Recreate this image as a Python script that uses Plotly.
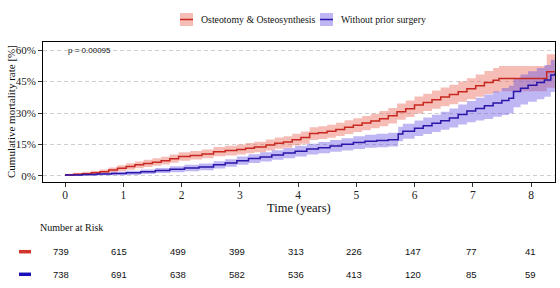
import plotly.graph_objects as go

# ---------------- data ----------------
group_names = ["Osteotomy & Osteosynthesis", "Without prior surgery"]

red_t = [0, 0.15, 0.3, 0.45, 0.6, 0.75, 0.9, 1.05, 1.2, 1.35, 1.5, 1.65, 1.8, 1.95,
         2.15, 2.35, 2.55, 2.75, 2.95, 3.1, 3.25, 3.45, 3.6, 3.75, 3.9, 4.05, 4.2,
         4.35, 4.5, 4.65, 4.8, 4.95, 5.1, 5.25, 5.4, 5.55, 5.7, 5.85, 6.0, 6.15, 6.3,
         6.45, 6.6, 6.75, 6.9, 7.05, 7.2, 7.35, 7.45, 8.27, 8.41]
red_est = [0.5, 0.8, 1.1, 1.5, 2.0, 2.8, 3.7, 4.5, 5.3, 6.0, 6.6, 7.3, 8.2, 9.3,
           9.8, 10.5, 11.6, 12.1, 12.6, 13.2, 13.8, 14.8, 15.6, 16.2, 17.3, 18.3, 20.2,
           20.6, 21.3, 22.2, 23.2, 24.2, 25.2, 26.2, 27.3, 28.7, 30.6, 32.0, 33.8, 35.0, 36.3,
           37.6, 38.8, 40.1, 41.5, 43.0, 44.5, 45.6, 46.4, 49.6, 49.6]
red_lo = [0.0, 0.2, 0.4, 0.6, 0.9, 1.5, 2.3, 3.0, 3.7, 4.3, 4.9, 5.5, 6.3, 7.3,
          7.8, 8.4, 9.4, 9.8, 10.2, 10.8, 11.3, 12.2, 13.0, 13.5, 14.5, 15.4, 17.2,
          17.6, 18.2, 19.0, 20.0, 20.9, 21.8, 22.7, 23.7, 25.0, 26.8, 28.1, 29.8, 30.9, 32.0,
          33.2, 34.2, 35.3, 36.5, 37.7, 39.0, 39.8, 40.4, 42.0, 42.0]
red_hi = [1.1, 1.5, 2.0, 2.5, 3.1, 4.1, 5.1, 6.1, 6.9, 7.7, 8.4, 9.2, 10.2, 11.3,
          11.9, 12.6, 13.8, 14.4, 15.0, 15.7, 16.3, 17.4, 18.3, 18.9, 20.1, 21.2, 23.2,
          23.7, 24.4, 25.4, 26.5, 27.5, 28.6, 29.7, 30.9, 32.4, 34.5, 36.0, 37.9, 39.2, 40.7,
          42.1, 43.5, 45.0, 46.6, 48.3, 50.0, 51.4, 52.4, 58.0, 58.0]

blue_t = [0, 0.3, 0.55, 0.8, 1.05, 1.3, 1.55, 1.8, 2.05, 2.3, 2.55, 2.75, 2.95, 3.15,
          3.35, 3.55, 3.75, 3.95, 4.15, 4.35, 4.55, 4.75, 4.95, 5.15, 5.35, 5.55, 5.72,
          5.8, 6.0, 6.15, 6.3, 6.45, 6.6, 6.75, 6.9, 7.05, 7.2, 7.35, 7.5, 7.62, 7.7,
          7.82, 7.95, 8.1, 8.23, 8.34, 8.41]
blue_est = [0.5, 0.7, 1.0, 1.2, 1.5, 2.0, 2.6, 3.2, 3.8, 4.3, 5.3, 6.2, 7.3, 8.3,
            9.1, 10.0, 10.9, 11.8, 12.8, 13.5, 14.3, 15.1, 15.9, 16.5, 16.9, 17.3, 20.0,
            21.3, 22.7, 23.9, 25.1, 26.3, 27.6, 29.3, 30.9, 32.2, 33.4, 34.8, 36.0, 37.0, 40.2,
            41.8, 43.2, 44.5, 45.7, 48.1, 48.9]
blue_lo = [0.0, 0.1, 0.3, 0.4, 0.5, 0.9, 1.4, 1.8, 2.3, 2.7, 3.6, 4.4, 5.3, 6.2,
           6.9, 7.7, 8.5, 9.3, 10.2, 10.8, 11.5, 12.2, 12.9, 13.4, 13.7, 14.0, 16.5,
           17.7, 19.0, 20.0, 21.0, 22.0, 23.1, 24.5, 25.6, 26.4, 27.2, 28.2, 29.0, 29.8, 32.7,
           34.1, 35.4, 36.6, 37.7, 40.0, 40.8]
blue_hi = [1.0, 1.3, 1.7, 2.0, 2.5, 3.1, 3.8, 4.6, 5.3, 5.9, 7.0, 8.0, 9.3, 10.4,
           11.3, 12.3, 13.3, 14.3, 15.4, 16.2, 17.1, 18.0, 18.9, 19.6, 20.1, 20.6, 23.5,
           24.9, 26.4, 27.8, 29.2, 30.6, 32.1, 34.0, 35.7, 37.3, 38.8, 40.4, 41.9, 43.0, 46.4,
           48.3, 49.9, 51.4, 52.8, 55.4, 56.3]

risk_times = [0, 1, 2, 3, 4, 5, 6, 7, 8]
risk_red = [739, 615, 499, 399, 313, 226, 147, 77, 41]
risk_blue = [738, 691, 638, 582, 536, 413, 120, 85, 59]

y_ticks = [0, 15, 30, 45, 60]
y_ticklabels = ["0%", "15%", "30%", "45%", "60%"]
x_ticks = [0, 1, 2, 3, 4, 5, 6, 7, 8]
p_label = "p = 0.00095"

# ---------------- style ----------------
RED_LINE = "#c8281f"
BLUE_LINE = "#2a16a8"
RED_FILL = "rgba(232,90,75,0.40)"
BLUE_FILL = "rgba(95,75,228,0.40)"
SERIF = "Liberation Serif"
SANS = "Liberation Sans"

W, H = 560, 288
L, R, T, B = 43, 5, 42, 106
PW, PH = W - L - R, H - T - B


def px_x(p):
    return (p - L) / PW


def px_y(p):
    return (T + PH - p) / PH


fig = go.Figure()

for t, lo, hi, fill in [(red_t, red_lo, red_hi, RED_FILL), (blue_t, blue_lo, blue_hi, BLUE_FILL)]:
    fig.add_trace(go.Scatter(x=t, y=lo, mode="lines", line=dict(width=0, shape="hv"),
                             showlegend=False, hoverinfo="skip"))
    fig.add_trace(go.Scatter(x=t, y=hi, mode="lines", line=dict(width=0, shape="hv"),
                             fill="tonexty", fillcolor=fill, showlegend=False, hoverinfo="skip"))

fig.add_trace(go.Scatter(x=red_t, y=red_est, mode="lines", name=group_names[0],
                         line=dict(color=RED_LINE, width=1.5, shape="hv"), showlegend=False))
fig.add_trace(go.Scatter(x=blue_t, y=blue_est, mode="lines", name=group_names[1],
                         line=dict(color=BLUE_LINE, width=1.5, shape="hv"), showlegend=False))

# dummy trace for the risk-table axis
fig.add_trace(go.Scatter(x=[0], y=[0], xaxis="x2", mode="markers", marker=dict(opacity=0),
                         showlegend=False, hoverinfo="skip"))

annotations = []
shapes = []

# legend (manual)
for i, (name, fill, lc, xb) in enumerate([(group_names[0], RED_FILL, RED_LINE, 180),
                                           (group_names[1], BLUE_FILL, BLUE_LINE, 320)]):
    shapes.append(dict(type="rect", xref="paper", yref="paper",
                       x0=px_x(xb), x1=px_x(xb + 13), y0=px_y(26), y1=px_y(13),
                       fillcolor=fill, line=dict(width=0)))
    shapes.append(dict(type="line", xref="paper", yref="paper",
                       x0=px_x(xb), x1=px_x(xb + 13), y0=px_y(19.5), y1=px_y(19.5),
                       line=dict(color=lc, width=1.5)))
    annotations.append(dict(text=name, xref="paper", yref="paper", x=px_x(xb + 19), y=px_y(19.5),
                            xanchor="left", yanchor="middle", showarrow=False,
                            font=dict(family=SERIF, size=9.8, color="#111")))

# p value
annotations.append(dict(text=p_label, xref="x", yref="y", x=0.02, y=60, xanchor="left",
                        yanchor="middle", showarrow=False,
                        font=dict(family=SANS, size=8, color="#111")))

# axis titles
annotations.append(dict(text="Time (years)", xref="paper", yref="paper", x=0.5, y=px_y(208),
                        xanchor="center", yanchor="middle", showarrow=False,
                        font=dict(family=SERIF, size=12.5, color="#111")))
annotations.append(dict(text="Cumulative mortality rate [%]", xref="paper", yref="paper",
                        x=px_x(11), y=0.5, textangle=-90, xanchor="center", yanchor="middle",
                        showarrow=False, font=dict(family=SERIF, size=11, color="#111")))

# risk table
annotations.append(dict(text="Number at Risk", xref="paper", yref="paper", x=px_x(38), y=px_y(227),
                        xanchor="left", yanchor="middle", showarrow=False,
                        font=dict(family=SERIF, size=10, color="#111")))
for row_vals, row_y, col in [(risk_red, 251.7, "#d2352c"), (risk_blue, 274.3, "#1a12b8")]:
    shapes.append(dict(type="line", xref="paper", yref="paper", x0=px_x(19), x1=px_x(31),
                       y0=px_y(row_y), y1=px_y(row_y), line=dict(color=col, width=3.5)))
    for t, v in zip(risk_times, row_vals):
        annotations.append(dict(text=str(v), xref="x2", yref="paper", x=t, y=px_y(row_y),
                                xanchor="center", yanchor="middle", showarrow=False,
                                font=dict(family=SANS, size=9.5, color="#111")))

fig.update_layout(
    width=W, height=H,
    margin=dict(l=L, r=R, t=T, b=B, autoexpand=False),
    paper_bgcolor="white", plot_bgcolor="white",
    showlegend=False,
    hovermode=False,
    xaxis=dict(range=[-0.378, 8.412], tickvals=x_ticks, ticktext=[str(v) for v in x_ticks],
               automargin=False, ticklabelstandoff=-2,
               showgrid=False, zeroline=False, showline=True, linecolor="black", linewidth=1,
               mirror=True, ticks="outside", ticklen=4, tickcolor="#333",
               tickfont=dict(family=SERIF, size=11.5, color="#222")),
    xaxis2=dict(overlaying="x", range=[-0.298, 8.417], visible=False, automargin=False),
    yaxis=dict(range=[-2.86, 63.81], tickvals=y_ticks, ticktext=y_ticklabels,
               automargin=False,
               showgrid=True, gridcolor="#cfcfcf", griddash="4px,3px", gridwidth=0.8,
               zeroline=False, showline=True, linecolor="black", linewidth=1, mirror=True,
               ticks="outside", ticklen=4, tickcolor="#333",
               tickfont=dict(family=SERIF, size=11, color="#222")),
    annotations=annotations,
    shapes=shapes,
)

fig.write_html("out.html", config={"displayModeBar": False},
               post_script="document.body.style.margin='0';document.body.style.padding='0';")
